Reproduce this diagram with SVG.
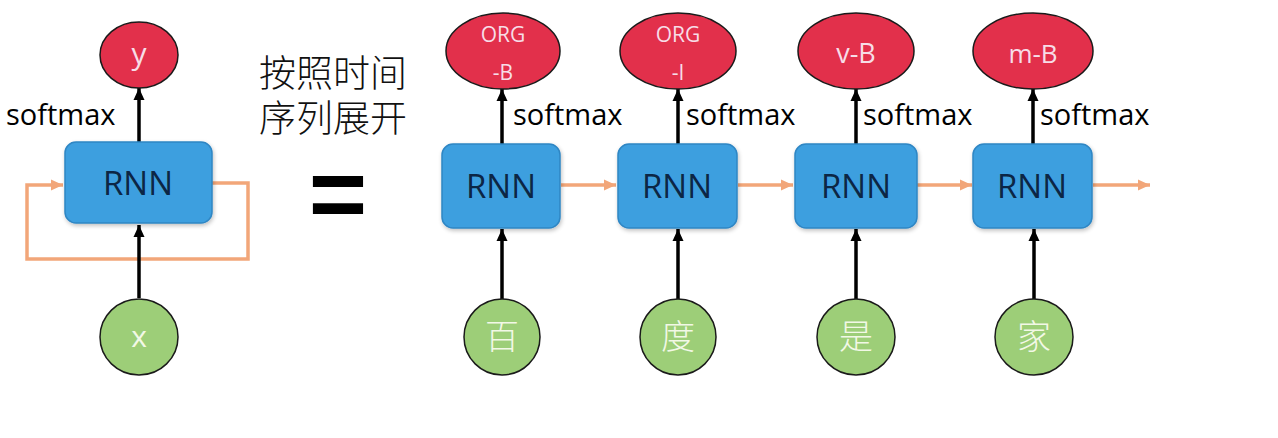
<svg xmlns="http://www.w3.org/2000/svg" width="1278" height="438" viewBox="0 0 1278 438">
<defs>
<marker id="ab" markerUnits="userSpaceOnUse" markerWidth="14" markerHeight="14" viewBox="0 0 14 14" refX="13" refY="7" orient="auto">
<path d="M1,1.5 L13,7 L1,12.5 Z" fill="#000"/>
</marker>
<marker id="ao" markerUnits="userSpaceOnUse" markerWidth="14" markerHeight="14" viewBox="0 0 14 14" refX="13" refY="7" orient="auto">
<path d="M1,1.5 L13,7 L1,12.5 Z" fill="#F2A679"/>
</marker>
<filter id="sh" x="-10%" y="-10%" width="130%" height="130%">
<feGaussianBlur in="SourceAlpha" stdDeviation="2"/>
<feOffset dx="1" dy="2" result="b"/>
<feComponentTransfer><feFuncA type="linear" slope="0.25"/></feComponentTransfer>
<feMerge><feMergeNode/><feMergeNode in="SourceGraphic"/></feMerge>
</filter>
</defs>
<style>
.rnn{fill:#3D9FDF;stroke:#2F86C4;stroke-width:1.5}
.rnnt{font-family:"Open Sans","Liberation Sans",sans-serif;font-size:33px;fill:#0C2645;text-anchor:middle}
.out{fill:#E2304B;stroke:#1a1a1a;stroke-width:1.5}
.outt{font-family:"Open Sans","Liberation Sans",sans-serif;fill:#F7DDE7;text-anchor:middle}
.in{fill:#9DCE78;stroke:#1a1a1a;stroke-width:1.5}
.int{font-family:"Liberation Sans","Noto Sans CJK SC",sans-serif;font-size:34px;fill:#F2F8E6;text-anchor:middle;font-weight:300}
.lbl{font-family:"Open Sans","Liberation Sans",sans-serif;font-size:29px;fill:#000}
.blk{stroke:#000;stroke-width:3.5;fill:none;marker-end:url(#ab)}
.org{stroke:#F2A679;stroke-width:3.5;fill:none;marker-end:url(#ao)}
.cjk{font-family:"Liberation Sans","Noto Sans CJK SC",sans-serif;font-size:37px;fill:#111;font-weight:300}
</style>

<g id="connectors">
<path class="org" d="M212,183 H248 V259 H27 V185 H63"/>
<line class="blk" x1="139" y1="298" x2="139" y2="225"/>
<line class="blk" x1="139" y1="142" x2="139" y2="88"/>
<line class="blk" x1="502" y1="299" x2="502" y2="229"/>
<line class="blk" x1="678" y1="299" x2="678" y2="229"/>
<line class="blk" x1="856" y1="299" x2="856" y2="229"/>
<line class="blk" x1="1034" y1="299" x2="1034" y2="229"/>
<line class="blk" x1="502" y1="144" x2="502" y2="89"/>
<line class="blk" x1="678" y1="144" x2="678" y2="89"/>
<line class="blk" x1="856" y1="144" x2="856" y2="89"/>
<line class="blk" x1="1033" y1="144" x2="1033" y2="89"/>
<line class="org" x1="561" y1="185" x2="616" y2="185"/>
<line class="org" x1="738" y1="185" x2="793" y2="185"/>
<line class="org" x1="917" y1="185" x2="972" y2="185"/>
<line class="org" x1="1093" y1="185" x2="1150" y2="185"/>
</g>

<g id="left-rnn"><rect class="rnn" x="65" y="142" width="147" height="81" rx="11" filter="url(#sh)"/><text class="rnnt" x="138" y="195">RNN</text></g>
<g id="left-y"><ellipse class="out" cx="139" cy="55" rx="39" ry="33"/><text class="outt" x="139" y="64" font-size="30">y</text></g>
<g id="left-x"><ellipse class="in" cx="139" cy="337" rx="39" ry="38"/><text class="outt" x="139" y="347" font-size="30" style="fill:#F2F8E6">x</text></g>
<g id="left-softmax"><text class="lbl" x="6" y="125">softmax</text></g>

<g id="title"><text class="cjk" x="259" y="87">按照时间</text><text class="cjk" x="259" y="132">序列展开</text></g>
<g id="equals"><text x="338" y="228" font-family="Liberation Sans,sans-serif" font-weight="bold" font-size="100" text-anchor="middle" fill="#000">=</text></g>

<g id="rnn1"><rect class="rnn" x="442" y="144" width="118" height="84" rx="11" filter="url(#sh)"/><text class="rnnt" x="501" y="198">RNN</text></g>
<g id="rnn2"><rect class="rnn" x="618" y="144" width="119" height="84" rx="11" filter="url(#sh)"/><text class="rnnt" x="677" y="198">RNN</text></g>
<g id="rnn3"><rect class="rnn" x="795" y="144" width="122" height="84" rx="11" filter="url(#sh)"/><text class="rnnt" x="856" y="198">RNN</text></g>
<g id="rnn4"><rect class="rnn" x="973" y="144" width="119" height="84" rx="11" filter="url(#sh)"/><text class="rnnt" x="1032" y="198">RNN</text></g>

<g id="out1"><ellipse class="out" cx="503" cy="51" rx="57" ry="38"/><text class="outt" x="503" y="42" font-size="21">ORG</text><text class="outt" x="503" y="80" font-size="21">-B</text></g>
<g id="out2"><ellipse class="out" cx="678" cy="51" rx="58" ry="38"/><text class="outt" x="678" y="42" font-size="21">ORG</text><text class="outt" x="678" y="80" font-size="21">-I</text></g>
<g id="out3"><ellipse class="out" cx="856" cy="51" rx="58" ry="38"/><text class="outt" x="856" y="63" font-size="27">v-B</text></g>
<g id="out4"><ellipse class="out" cx="1033" cy="51" rx="60" ry="38"/><text class="outt" x="1033" y="63" font-size="26">m-B</text></g>

<g id="sm1"><text class="lbl" x="513" y="125">softmax</text></g>
<g id="sm2"><text class="lbl" x="686" y="125">softmax</text></g>
<g id="sm3"><text class="lbl" x="863" y="125">softmax</text></g>
<g id="sm4"><text class="lbl" x="1040" y="125">softmax</text></g>

<g id="in1"><ellipse class="in" cx="502" cy="337" rx="38" ry="38"/><text class="int" x="502" y="349">百</text></g>
<g id="in2"><ellipse class="in" cx="678" cy="337" rx="38" ry="38"/><text class="int" x="678" y="349">度</text></g>
<g id="in3"><ellipse class="in" cx="856" cy="337" rx="39" ry="38"/><text class="int" x="856" y="349">是</text></g>
<g id="in4"><ellipse class="in" cx="1034" cy="337" rx="39" ry="38"/><text class="int" x="1034" y="349">家</text></g>
</svg>
